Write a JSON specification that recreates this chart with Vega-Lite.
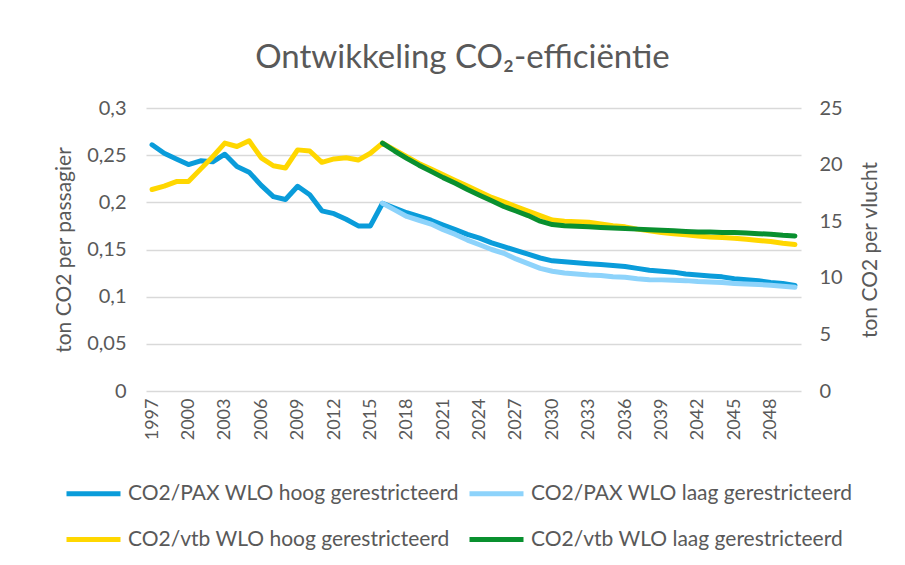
{
  "$schema": "https://vega.github.io/schema/vega-lite/v6.json",
  "width": 655,
  "height": 283,
  "autosize": {"type": "none"},
  "padding": {"left": 146, "top": 108, "right": 104, "bottom": 174},
  "background": "white",
  "title": {"text": "Ontwikkeling CO₂-efficiëntie", "font": "Lato", "fontSize": 33, "fontWeight": "normal", "color": "#595959", "anchor": "middle", "offset": 23, "dx": -11},
  "config": {
    "view": {"stroke": null},
    "font": "Lato",
    "axis": {"labelFont": "Lato", "titleFont": "Lato", "labelColor": "#595959", "titleColor": "#595959", "titleFontWeight": "normal"}
  },
  "data": {"values": [
    {"jaar": 1997, "reeks": "CO2/PAX WLO hoog gerestricteerd", "waarde": 0.261},
    {"jaar": 1998, "reeks": "CO2/PAX WLO hoog gerestricteerd", "waarde": 0.252},
    {"jaar": 1999, "reeks": "CO2/PAX WLO hoog gerestricteerd", "waarde": 0.246},
    {"jaar": 2000, "reeks": "CO2/PAX WLO hoog gerestricteerd", "waarde": 0.240},
    {"jaar": 2001, "reeks": "CO2/PAX WLO hoog gerestricteerd", "waarde": 0.244},
    {"jaar": 2002, "reeks": "CO2/PAX WLO hoog gerestricteerd", "waarde": 0.243},
    {"jaar": 2003, "reeks": "CO2/PAX WLO hoog gerestricteerd", "waarde": 0.251},
    {"jaar": 2004, "reeks": "CO2/PAX WLO hoog gerestricteerd", "waarde": 0.238},
    {"jaar": 2005, "reeks": "CO2/PAX WLO hoog gerestricteerd", "waarde": 0.232},
    {"jaar": 2006, "reeks": "CO2/PAX WLO hoog gerestricteerd", "waarde": 0.218},
    {"jaar": 2007, "reeks": "CO2/PAX WLO hoog gerestricteerd", "waarde": 0.206},
    {"jaar": 2008, "reeks": "CO2/PAX WLO hoog gerestricteerd", "waarde": 0.203},
    {"jaar": 2009, "reeks": "CO2/PAX WLO hoog gerestricteerd", "waarde": 0.217},
    {"jaar": 2010, "reeks": "CO2/PAX WLO hoog gerestricteerd", "waarde": 0.208},
    {"jaar": 2011, "reeks": "CO2/PAX WLO hoog gerestricteerd", "waarde": 0.191},
    {"jaar": 2012, "reeks": "CO2/PAX WLO hoog gerestricteerd", "waarde": 0.188},
    {"jaar": 2013, "reeks": "CO2/PAX WLO hoog gerestricteerd", "waarde": 0.182},
    {"jaar": 2014, "reeks": "CO2/PAX WLO hoog gerestricteerd", "waarde": 0.175},
    {"jaar": 2015, "reeks": "CO2/PAX WLO hoog gerestricteerd", "waarde": 0.175},
    {"jaar": 2016, "reeks": "CO2/PAX WLO hoog gerestricteerd", "waarde": 0.199},
    {"jaar": 2017, "reeks": "CO2/PAX WLO hoog gerestricteerd", "waarde": 0.194},
    {"jaar": 2018, "reeks": "CO2/PAX WLO hoog gerestricteerd", "waarde": 0.189},
    {"jaar": 2019, "reeks": "CO2/PAX WLO hoog gerestricteerd", "waarde": 0.185},
    {"jaar": 2020, "reeks": "CO2/PAX WLO hoog gerestricteerd", "waarde": 0.181},
    {"jaar": 2021, "reeks": "CO2/PAX WLO hoog gerestricteerd", "waarde": 0.176},
    {"jaar": 2022, "reeks": "CO2/PAX WLO hoog gerestricteerd", "waarde": 0.171},
    {"jaar": 2023, "reeks": "CO2/PAX WLO hoog gerestricteerd", "waarde": 0.166},
    {"jaar": 2024, "reeks": "CO2/PAX WLO hoog gerestricteerd", "waarde": 0.162},
    {"jaar": 2025, "reeks": "CO2/PAX WLO hoog gerestricteerd", "waarde": 0.157},
    {"jaar": 2026, "reeks": "CO2/PAX WLO hoog gerestricteerd", "waarde": 0.153},
    {"jaar": 2027, "reeks": "CO2/PAX WLO hoog gerestricteerd", "waarde": 0.149},
    {"jaar": 2028, "reeks": "CO2/PAX WLO hoog gerestricteerd", "waarde": 0.145},
    {"jaar": 2029, "reeks": "CO2/PAX WLO hoog gerestricteerd", "waarde": 0.141},
    {"jaar": 2030, "reeks": "CO2/PAX WLO hoog gerestricteerd", "waarde": 0.138},
    {"jaar": 2031, "reeks": "CO2/PAX WLO hoog gerestricteerd", "waarde": 0.137},
    {"jaar": 2032, "reeks": "CO2/PAX WLO hoog gerestricteerd", "waarde": 0.136},
    {"jaar": 2033, "reeks": "CO2/PAX WLO hoog gerestricteerd", "waarde": 0.135},
    {"jaar": 2034, "reeks": "CO2/PAX WLO hoog gerestricteerd", "waarde": 0.134},
    {"jaar": 2035, "reeks": "CO2/PAX WLO hoog gerestricteerd", "waarde": 0.133},
    {"jaar": 2036, "reeks": "CO2/PAX WLO hoog gerestricteerd", "waarde": 0.132},
    {"jaar": 2037, "reeks": "CO2/PAX WLO hoog gerestricteerd", "waarde": 0.130},
    {"jaar": 2038, "reeks": "CO2/PAX WLO hoog gerestricteerd", "waarde": 0.128},
    {"jaar": 2039, "reeks": "CO2/PAX WLO hoog gerestricteerd", "waarde": 0.127},
    {"jaar": 2040, "reeks": "CO2/PAX WLO hoog gerestricteerd", "waarde": 0.126},
    {"jaar": 2041, "reeks": "CO2/PAX WLO hoog gerestricteerd", "waarde": 0.124},
    {"jaar": 2042, "reeks": "CO2/PAX WLO hoog gerestricteerd", "waarde": 0.123},
    {"jaar": 2043, "reeks": "CO2/PAX WLO hoog gerestricteerd", "waarde": 0.122},
    {"jaar": 2044, "reeks": "CO2/PAX WLO hoog gerestricteerd", "waarde": 0.121},
    {"jaar": 2045, "reeks": "CO2/PAX WLO hoog gerestricteerd", "waarde": 0.119},
    {"jaar": 2046, "reeks": "CO2/PAX WLO hoog gerestricteerd", "waarde": 0.118},
    {"jaar": 2047, "reeks": "CO2/PAX WLO hoog gerestricteerd", "waarde": 0.117},
    {"jaar": 2048, "reeks": "CO2/PAX WLO hoog gerestricteerd", "waarde": 0.115},
    {"jaar": 2049, "reeks": "CO2/PAX WLO hoog gerestricteerd", "waarde": 0.114},
    {"jaar": 2050, "reeks": "CO2/PAX WLO hoog gerestricteerd", "waarde": 0.112},
    {"jaar": 2016, "reeks": "CO2/PAX WLO laag gerestricteerd", "waarde": 0.199},
    {"jaar": 2017, "reeks": "CO2/PAX WLO laag gerestricteerd", "waarde": 0.192},
    {"jaar": 2018, "reeks": "CO2/PAX WLO laag gerestricteerd", "waarde": 0.185},
    {"jaar": 2019, "reeks": "CO2/PAX WLO laag gerestricteerd", "waarde": 0.181},
    {"jaar": 2020, "reeks": "CO2/PAX WLO laag gerestricteerd", "waarde": 0.177},
    {"jaar": 2021, "reeks": "CO2/PAX WLO laag gerestricteerd", "waarde": 0.171},
    {"jaar": 2022, "reeks": "CO2/PAX WLO laag gerestricteerd", "waarde": 0.166},
    {"jaar": 2023, "reeks": "CO2/PAX WLO laag gerestricteerd", "waarde": 0.160},
    {"jaar": 2024, "reeks": "CO2/PAX WLO laag gerestricteerd", "waarde": 0.155},
    {"jaar": 2025, "reeks": "CO2/PAX WLO laag gerestricteerd", "waarde": 0.150},
    {"jaar": 2026, "reeks": "CO2/PAX WLO laag gerestricteerd", "waarde": 0.146},
    {"jaar": 2027, "reeks": "CO2/PAX WLO laag gerestricteerd", "waarde": 0.140},
    {"jaar": 2028, "reeks": "CO2/PAX WLO laag gerestricteerd", "waarde": 0.135},
    {"jaar": 2029, "reeks": "CO2/PAX WLO laag gerestricteerd", "waarde": 0.130},
    {"jaar": 2030, "reeks": "CO2/PAX WLO laag gerestricteerd", "waarde": 0.127},
    {"jaar": 2031, "reeks": "CO2/PAX WLO laag gerestricteerd", "waarde": 0.125},
    {"jaar": 2032, "reeks": "CO2/PAX WLO laag gerestricteerd", "waarde": 0.124},
    {"jaar": 2033, "reeks": "CO2/PAX WLO laag gerestricteerd", "waarde": 0.123},
    {"jaar": 2034, "reeks": "CO2/PAX WLO laag gerestricteerd", "waarde": 0.1225},
    {"jaar": 2035, "reeks": "CO2/PAX WLO laag gerestricteerd", "waarde": 0.121},
    {"jaar": 2036, "reeks": "CO2/PAX WLO laag gerestricteerd", "waarde": 0.1205},
    {"jaar": 2037, "reeks": "CO2/PAX WLO laag gerestricteerd", "waarde": 0.119},
    {"jaar": 2038, "reeks": "CO2/PAX WLO laag gerestricteerd", "waarde": 0.118},
    {"jaar": 2039, "reeks": "CO2/PAX WLO laag gerestricteerd", "waarde": 0.1178},
    {"jaar": 2040, "reeks": "CO2/PAX WLO laag gerestricteerd", "waarde": 0.1175},
    {"jaar": 2041, "reeks": "CO2/PAX WLO laag gerestricteerd", "waarde": 0.117},
    {"jaar": 2042, "reeks": "CO2/PAX WLO laag gerestricteerd", "waarde": 0.116},
    {"jaar": 2043, "reeks": "CO2/PAX WLO laag gerestricteerd", "waarde": 0.1155},
    {"jaar": 2044, "reeks": "CO2/PAX WLO laag gerestricteerd", "waarde": 0.115},
    {"jaar": 2045, "reeks": "CO2/PAX WLO laag gerestricteerd", "waarde": 0.114},
    {"jaar": 2046, "reeks": "CO2/PAX WLO laag gerestricteerd", "waarde": 0.1135},
    {"jaar": 2047, "reeks": "CO2/PAX WLO laag gerestricteerd", "waarde": 0.113},
    {"jaar": 2048, "reeks": "CO2/PAX WLO laag gerestricteerd", "waarde": 0.112},
    {"jaar": 2049, "reeks": "CO2/PAX WLO laag gerestricteerd", "waarde": 0.111},
    {"jaar": 2050, "reeks": "CO2/PAX WLO laag gerestricteerd", "waarde": 0.110},
    {"jaar": 1997, "reeks": "CO2/vtb WLO hoog gerestricteerd", "waarde": 17.8},
    {"jaar": 1998, "reeks": "CO2/vtb WLO hoog gerestricteerd", "waarde": 18.1},
    {"jaar": 1999, "reeks": "CO2/vtb WLO hoog gerestricteerd", "waarde": 18.5},
    {"jaar": 2000, "reeks": "CO2/vtb WLO hoog gerestricteerd", "waarde": 18.5},
    {"jaar": 2001, "reeks": "CO2/vtb WLO hoog gerestricteerd", "waarde": 19.6},
    {"jaar": 2002, "reeks": "CO2/vtb WLO hoog gerestricteerd", "waarde": 20.7},
    {"jaar": 2003, "reeks": "CO2/vtb WLO hoog gerestricteerd", "waarde": 21.9},
    {"jaar": 2004, "reeks": "CO2/vtb WLO hoog gerestricteerd", "waarde": 21.6},
    {"jaar": 2005, "reeks": "CO2/vtb WLO hoog gerestricteerd", "waarde": 22.1},
    {"jaar": 2006, "reeks": "CO2/vtb WLO hoog gerestricteerd", "waarde": 20.6},
    {"jaar": 2007, "reeks": "CO2/vtb WLO hoog gerestricteerd", "waarde": 19.9},
    {"jaar": 2008, "reeks": "CO2/vtb WLO hoog gerestricteerd", "waarde": 19.7},
    {"jaar": 2009, "reeks": "CO2/vtb WLO hoog gerestricteerd", "waarde": 21.3},
    {"jaar": 2010, "reeks": "CO2/vtb WLO hoog gerestricteerd", "waarde": 21.2},
    {"jaar": 2011, "reeks": "CO2/vtb WLO hoog gerestricteerd", "waarde": 20.2},
    {"jaar": 2012, "reeks": "CO2/vtb WLO hoog gerestricteerd", "waarde": 20.5},
    {"jaar": 2013, "reeks": "CO2/vtb WLO hoog gerestricteerd", "waarde": 20.6},
    {"jaar": 2014, "reeks": "CO2/vtb WLO hoog gerestricteerd", "waarde": 20.4},
    {"jaar": 2015, "reeks": "CO2/vtb WLO hoog gerestricteerd", "waarde": 21.0},
    {"jaar": 2016, "reeks": "CO2/vtb WLO hoog gerestricteerd", "waarde": 21.9},
    {"jaar": 2017, "reeks": "CO2/vtb WLO hoog gerestricteerd", "waarde": 21.3},
    {"jaar": 2018, "reeks": "CO2/vtb WLO hoog gerestricteerd", "waarde": 20.7},
    {"jaar": 2019, "reeks": "CO2/vtb WLO hoog gerestricteerd", "waarde": 20.1},
    {"jaar": 2020, "reeks": "CO2/vtb WLO hoog gerestricteerd", "waarde": 19.6},
    {"jaar": 2021, "reeks": "CO2/vtb WLO hoog gerestricteerd", "waarde": 19.1},
    {"jaar": 2022, "reeks": "CO2/vtb WLO hoog gerestricteerd", "waarde": 18.6},
    {"jaar": 2023, "reeks": "CO2/vtb WLO hoog gerestricteerd", "waarde": 18.1},
    {"jaar": 2024, "reeks": "CO2/vtb WLO hoog gerestricteerd", "waarde": 17.6},
    {"jaar": 2025, "reeks": "CO2/vtb WLO hoog gerestricteerd", "waarde": 17.1},
    {"jaar": 2026, "reeks": "CO2/vtb WLO hoog gerestricteerd", "waarde": 16.7},
    {"jaar": 2027, "reeks": "CO2/vtb WLO hoog gerestricteerd", "waarde": 16.3},
    {"jaar": 2028, "reeks": "CO2/vtb WLO hoog gerestricteerd", "waarde": 15.9},
    {"jaar": 2029, "reeks": "CO2/vtb WLO hoog gerestricteerd", "waarde": 15.5},
    {"jaar": 2030, "reeks": "CO2/vtb WLO hoog gerestricteerd", "waarde": 15.1},
    {"jaar": 2031, "reeks": "CO2/vtb WLO hoog gerestricteerd", "waarde": 15.0},
    {"jaar": 2032, "reeks": "CO2/vtb WLO hoog gerestricteerd", "waarde": 14.95},
    {"jaar": 2033, "reeks": "CO2/vtb WLO hoog gerestricteerd", "waarde": 14.9},
    {"jaar": 2034, "reeks": "CO2/vtb WLO hoog gerestricteerd", "waarde": 14.75},
    {"jaar": 2035, "reeks": "CO2/vtb WLO hoog gerestricteerd", "waarde": 14.6},
    {"jaar": 2036, "reeks": "CO2/vtb WLO hoog gerestricteerd", "waarde": 14.5},
    {"jaar": 2037, "reeks": "CO2/vtb WLO hoog gerestricteerd", "waarde": 14.3},
    {"jaar": 2038, "reeks": "CO2/vtb WLO hoog gerestricteerd", "waarde": 14.15},
    {"jaar": 2039, "reeks": "CO2/vtb WLO hoog gerestricteerd", "waarde": 14.0},
    {"jaar": 2040, "reeks": "CO2/vtb WLO hoog gerestricteerd", "waarde": 13.9},
    {"jaar": 2041, "reeks": "CO2/vtb WLO hoog gerestricteerd", "waarde": 13.8},
    {"jaar": 2042, "reeks": "CO2/vtb WLO hoog gerestricteerd", "waarde": 13.7},
    {"jaar": 2043, "reeks": "CO2/vtb WLO hoog gerestricteerd", "waarde": 13.6},
    {"jaar": 2044, "reeks": "CO2/vtb WLO hoog gerestricteerd", "waarde": 13.55},
    {"jaar": 2045, "reeks": "CO2/vtb WLO hoog gerestricteerd", "waarde": 13.5},
    {"jaar": 2046, "reeks": "CO2/vtb WLO hoog gerestricteerd", "waarde": 13.4},
    {"jaar": 2047, "reeks": "CO2/vtb WLO hoog gerestricteerd", "waarde": 13.3},
    {"jaar": 2048, "reeks": "CO2/vtb WLO hoog gerestricteerd", "waarde": 13.2},
    {"jaar": 2049, "reeks": "CO2/vtb WLO hoog gerestricteerd", "waarde": 13.05},
    {"jaar": 2050, "reeks": "CO2/vtb WLO hoog gerestricteerd", "waarde": 12.95},
    {"jaar": 2016, "reeks": "CO2/vtb WLO laag gerestricteerd", "waarde": 21.9},
    {"jaar": 2017, "reeks": "CO2/vtb WLO laag gerestricteerd", "waarde": 21.2},
    {"jaar": 2018, "reeks": "CO2/vtb WLO laag gerestricteerd", "waarde": 20.55},
    {"jaar": 2019, "reeks": "CO2/vtb WLO laag gerestricteerd", "waarde": 19.95},
    {"jaar": 2020, "reeks": "CO2/vtb WLO laag gerestricteerd", "waarde": 19.4},
    {"jaar": 2021, "reeks": "CO2/vtb WLO laag gerestricteerd", "waarde": 18.85},
    {"jaar": 2022, "reeks": "CO2/vtb WLO laag gerestricteerd", "waarde": 18.35},
    {"jaar": 2023, "reeks": "CO2/vtb WLO laag gerestricteerd", "waarde": 17.8},
    {"jaar": 2024, "reeks": "CO2/vtb WLO laag gerestricteerd", "waarde": 17.3},
    {"jaar": 2025, "reeks": "CO2/vtb WLO laag gerestricteerd", "waarde": 16.8},
    {"jaar": 2026, "reeks": "CO2/vtb WLO laag gerestricteerd", "waarde": 16.3},
    {"jaar": 2027, "reeks": "CO2/vtb WLO laag gerestricteerd", "waarde": 15.9},
    {"jaar": 2028, "reeks": "CO2/vtb WLO laag gerestricteerd", "waarde": 15.5},
    {"jaar": 2029, "reeks": "CO2/vtb WLO laag gerestricteerd", "waarde": 15.0},
    {"jaar": 2030, "reeks": "CO2/vtb WLO laag gerestricteerd", "waarde": 14.7},
    {"jaar": 2031, "reeks": "CO2/vtb WLO laag gerestricteerd", "waarde": 14.6},
    {"jaar": 2032, "reeks": "CO2/vtb WLO laag gerestricteerd", "waarde": 14.55},
    {"jaar": 2033, "reeks": "CO2/vtb WLO laag gerestricteerd", "waarde": 14.5},
    {"jaar": 2034, "reeks": "CO2/vtb WLO laag gerestricteerd", "waarde": 14.45},
    {"jaar": 2035, "reeks": "CO2/vtb WLO laag gerestricteerd", "waarde": 14.4},
    {"jaar": 2036, "reeks": "CO2/vtb WLO laag gerestricteerd", "waarde": 14.35},
    {"jaar": 2037, "reeks": "CO2/vtb WLO laag gerestricteerd", "waarde": 14.3},
    {"jaar": 2038, "reeks": "CO2/vtb WLO laag gerestricteerd", "waarde": 14.25},
    {"jaar": 2039, "reeks": "CO2/vtb WLO laag gerestricteerd", "waarde": 14.2},
    {"jaar": 2040, "reeks": "CO2/vtb WLO laag gerestricteerd", "waarde": 14.15},
    {"jaar": 2041, "reeks": "CO2/vtb WLO laag gerestricteerd", "waarde": 14.1},
    {"jaar": 2042, "reeks": "CO2/vtb WLO laag gerestricteerd", "waarde": 14.05},
    {"jaar": 2043, "reeks": "CO2/vtb WLO laag gerestricteerd", "waarde": 14.05},
    {"jaar": 2044, "reeks": "CO2/vtb WLO laag gerestricteerd", "waarde": 14.0},
    {"jaar": 2045, "reeks": "CO2/vtb WLO laag gerestricteerd", "waarde": 14.0},
    {"jaar": 2046, "reeks": "CO2/vtb WLO laag gerestricteerd", "waarde": 13.95},
    {"jaar": 2047, "reeks": "CO2/vtb WLO laag gerestricteerd", "waarde": 13.9},
    {"jaar": 2048, "reeks": "CO2/vtb WLO laag gerestricteerd", "waarde": 13.85},
    {"jaar": 2049, "reeks": "CO2/vtb WLO laag gerestricteerd", "waarde": 13.75},
    {"jaar": 2050, "reeks": "CO2/vtb WLO laag gerestricteerd", "waarde": 13.7}
  ]},
  "encoding": {
    "x": {
      "field": "jaar", "type": "quantitative",
      "scale": {"domain": [1996.5, 2050.5], "nice": false, "zero": false},
      "axis": {
        "values": [1997, 2000, 2003, 2006, 2009, 2012, 2015, 2018, 2021, 2024, 2027, 2030, 2033, 2036, 2039, 2042, 2045, 2048],
        "format": "d", "labelAngle": -90, "labelFontSize": 18, "labelPadding": 7,
        "grid": false, "ticks": false, "domain": false, "title": null
      }
    },
    "color": {
      "field": "reeks", "type": "nominal",
      "scale": {
        "domain": ["CO2/PAX WLO hoog gerestricteerd", "CO2/PAX WLO laag gerestricteerd", "CO2/vtb WLO hoog gerestricteerd", "CO2/vtb WLO laag gerestricteerd"],
        "range": ["#0A9CDA", "#8DD3FB", "#FFD700", "#09902F"]
      },
      "legend": {
        "title": null, "orient": "none", "direction": "horizontal", "legendX": -82, "legendY": 356, "columns": 2,
        "symbolType": "stroke", "symbolSize": 2916, "symbolStrokeWidth": 5,
        "labelFontSize": 21, "labelColor": "#595959", "labelFont": "Lato", "labelOffset": 5,
        "rowPadding": 6, "columnPadding": 0, "labelLimit": 400
      }
    }
  },
  "layer": [
    {
      "transform": [{"filter": "indexof(datum.reeks, 'PAX') >= 0"}],
      "mark": {"type": "line", "strokeWidth": 5, "strokeCap": "round", "strokeJoin": "round"},
      "encoding": {
        "y": {
          "field": "waarde", "type": "quantitative",
          "scale": {"domain": [0, 0.3], "nice": false},
          "axis": {
            "values": [0, 0.05, 0.1, 0.15, 0.2, 0.25, 0.3],
            "labelExpr": "replace(format(datum.value, '~g'), '.', ',')",
            "labelFontSize": 20, "labelPadding": 20, "ticks": false, "domain": false,
            "grid": true, "gridColor": "#D9D9D9", "gridWidth": 1.5,
            "title": "ton CO2 per passagier", "titleFontSize": 21,
            "titleX": -82, "titleY": 141.5, "titleAngle": -90, "titleAlign": "center", "titleBaseline": "middle"
          }
        }
      }
    },
    {
      "transform": [{"filter": "indexof(datum.reeks, 'vtb') >= 0"}],
      "mark": {"type": "line", "strokeWidth": 5, "strokeCap": "round", "strokeJoin": "round"},
      "encoding": {
        "y": {
          "field": "waarde", "type": "quantitative",
          "scale": {"domain": [0, 25], "nice": false},
          "axis": {
            "orient": "right",
            "values": [0, 5, 10, 15, 20, 25],
            "labelFontSize": 20, "labelPadding": 18, "ticks": false, "domain": false, "grid": false,
            "title": "ton CO2 per vlucht", "titleFontSize": 21,
            "titleX": 69, "titleY": 141.5, "titleAngle": -90, "titleAlign": "center", "titleBaseline": "middle"
          }
        }
      }
    }
  ],
  "resolve": {"scale": {"y": "independent"}}
}
